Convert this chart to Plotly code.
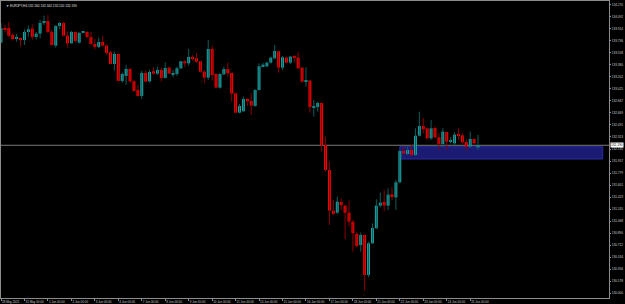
import plotly.graph_objects as go

symbol_title = "EURJPY,H4"

opens = [133.709,133.926,133.926,133.822,133.763,133.778,133.748,133.867,133.916,133.793,
         133.842,134.000,134.029,133.867,133.665,133.955,134.000,133.812,133.699,133.867,
         133.709,133.857,133.867,133.793,133.689,133.645,133.719,133.665,133.566,133.393,
         133.541,133.142,133.216,133.319,133.137,133.009,132.920,133.260,133.137,133.285,
         133.250,133.305,133.186,133.339,133.236,133.246,133.329,133.433,133.403,133.497,
         133.477,133.433,133.280,133.191,133.615,133.245,133.043,133.240,133.319,133.260,
         132.959,132.673,132.693,132.875,132.846,132.772,133.009,133.359,133.359,133.413,
         133.477,133.580,133.339,133.487,133.413,133.507,133.487,133.339,133.132,133.147,
         132.747,132.757,132.816,132.194,131.824,131.223,131.193,131.351,131.297,131.193,
         131.060,130.878,130.715,130.863,130.271,130.740,130.962,131.297,131.351,131.297,
         131.465,131.420,131.642,132.106,132.061,132.120,132.047,132.332,132.475,132.441,
         132.293,132.446,132.308,132.209,132.387,132.244,132.219,132.347,132.337,132.239,
         132.170,132.283,132.160]
highs = [133.995,133.970,134.015,133.847,133.837,133.783,133.906,133.960,133.975,133.867,
         134.044,134.108,134.118,133.896,133.970,134.015,134.015,133.872,133.882,133.872,
         133.867,133.877,133.877,133.867,133.763,133.783,133.808,133.684,133.591,133.576,
         133.551,133.265,133.379,133.329,133.157,133.083,133.295,133.295,133.305,133.344,
         133.354,133.339,133.418,133.354,133.305,133.354,133.438,133.453,133.615,133.522,
         133.551,133.438,133.305,133.748,133.664,133.255,133.255,133.354,133.413,133.265,
         132.969,132.802,132.910,132.885,132.959,133.018,133.403,133.413,133.428,133.502,
         133.674,133.590,133.511,133.502,133.511,133.526,133.576,133.344,133.344,133.156,
         132.861,132.836,132.821,132.317,131.948,131.381,131.430,131.405,131.307,131.371,
         131.085,130.912,130.898,130.873,130.764,131.036,131.391,131.489,131.529,131.553,
         131.568,131.676,132.120,132.170,132.170,132.194,132.441,132.687,132.589,132.451,
         132.564,132.466,132.367,132.441,132.392,132.308,132.382,132.441,132.367,132.283,
         132.392,132.293,132.342]
lows = [133.699,133.862,133.788,133.739,133.724,133.650,133.674,133.798,133.748,133.758,
        133.773,133.970,133.847,133.665,133.635,133.906,133.798,133.635,133.694,133.709,
        133.694,133.847,133.778,133.679,133.610,133.625,133.650,133.536,133.389,133.295,
        133.137,133.117,133.083,133.107,132.984,132.910,132.876,133.122,133.117,133.231,
        133.231,133.132,133.177,133.246,133.196,133.216,133.319,133.344,133.369,133.443,
        133.413,133.265,133.107,133.157,133.147,133.033,133.028,133.226,133.206,132.836,
        132.663,132.663,132.688,132.772,132.639,132.762,132.999,133.344,133.344,133.398,
        133.462,133.265,133.304,133.403,133.393,133.418,133.314,133.117,133.058,132.673,
        132.614,132.688,132.096,131.800,131.011,131.159,131.174,131.233,130.799,130.986,
        130.616,130.681,130.616,130.040,130.237,130.730,130.952,131.272,131.213,131.233,
        131.381,131.233,131.627,132.047,132.047,132.032,132.032,132.318,132.367,132.278,
        132.268,132.293,132.120,132.170,132.120,132.219,132.194,132.268,132.209,132.111,
        132.155,132.209,132.120]
closes = [133.921,133.901,133.812,133.763,133.778,133.748,133.867,133.906,133.793,133.842,
          134.000,134.029,133.867,133.674,133.955,134.000,133.812,133.699,133.867,133.734,
          133.852,133.867,133.793,133.689,133.645,133.719,133.665,133.556,133.393,133.541,
          133.142,133.246,133.319,133.137,132.994,132.920,133.260,133.132,133.275,133.250,
          133.305,133.186,133.334,133.250,133.250,133.329,133.433,133.403,133.497,133.472,
          133.428,133.280,133.191,133.615,133.230,133.043,133.245,133.319,133.255,132.954,
          132.673,132.772,132.875,132.841,132.777,133.009,133.359,133.383,133.413,133.487,
          133.585,133.339,133.492,133.413,133.502,133.482,133.329,133.132,133.152,132.757,
          132.757,132.816,132.190,131.824,131.223,131.174,131.356,131.302,131.193,131.060,
          130.888,130.700,130.863,130.271,130.740,130.967,131.297,131.341,131.297,131.460,
          131.425,131.642,132.105,132.071,132.120,132.047,132.332,132.475,132.426,132.293,
          132.441,132.308,132.209,132.392,132.244,132.259,132.347,132.337,132.234,132.170,
          132.283,132.219,132.190]

x_labels = ["28 May 2021", "31 May 00:00", "1 Jun 00:00", "2 Jun 00:00", "3 Jun 00:00",
            "4 Jun 00:00", "7 Jun 00:00", "8 Jun 00:00", "9 Jun 00:00", "10 Jun 00:00",
            "11 Jun 00:00", "14 Jun 00:00", "15 Jun 00:00", "16 Jun 00:00", "17 Jun 00:00",
            "18 Jun 00:00", "21 Jun 00:00", "22 Jun 00:00", "23 Jun 00:00", "24 Jun 00:00",
            "25 Jun 00:00"]
bars_per_label = 6

y_tick_values = [134.270, 134.092, 133.914, 133.736, 133.558, 133.380, 133.202, 133.025,
                 132.847, 132.669, 132.491, 132.313, 132.135, 131.957, 131.779, 131.601,
                 131.423, 131.245, 131.068, 130.890, 130.712, 130.534, 130.356, 130.178,
                 130.000]

zone_start = 102
zone_end = 153.9
zone_low = 131.987
zone_high = 132.169

# ---------------------------------------------------------------
BULL = "#1ca5a5"
BEAR = "#ff0000"
BULL_WICK = "#0e5c5c"
BEAR_WICK = "#8a0000"
AXIS = "#8c8c8c"
TXT = "#c8c8c8"
FONT = "Liberation Sans"

n = len(opens)
idx = list(range(n))
up = [c >= o for o, c in zip(opens, closes)]

fig = go.Figure()

for is_up, col in [(True, BULL_WICK), (False, BEAR_WICK)]:
    wx, wy = [], []
    for i in idx:
        if up[i] == is_up:
            wx += [i, i, None]
            wy += [lows[i], highs[i], None]
    fig.add_trace(go.Scatter(x=wx, y=wy, mode="lines",
                             line=dict(color=col, width=1), hoverinfo="skip"))

bases = [min(o, c) for o, c in zip(opens, closes)]
heights = [max(abs(c - o), 0.012) for o, c in zip(opens, closes)]
fig.add_trace(go.Bar(x=idx, y=heights, base=bases, width=0.75,
                     marker=dict(color=[BULL if u else BEAR for u in up], line=dict(width=0))))

fig.add_shape(type="rect", xref="x", yref="y", x0=zone_start, x1=zone_end,
              y0=zone_low, y1=zone_high, fillcolor="#1b1b74",
              line=dict(color="#2b2ba0", width=1), layer="below")
fig.add_shape(type="line", xref="paper", yref="y", x0=0, x1=1,
              y0=closes[-1], y1=closes[-1], line=dict(color="#7a7a7a", width=1), layer="below")

title_txt = "\u25bc " + symbol_title + " " + " ".join(
    f"{v:.3f}" for v in (opens[-1], highs[-1], lows[-1], closes[-1]))
fig.add_annotation(xref="paper", yref="paper", x=0, y=1, xanchor="left", yanchor="top",
                   text=title_txt, showarrow=False, xshift=3, yshift=-1,
                   font=dict(size=3.2, color="#e0e0e0", family=FONT))
fig.add_annotation(xref="paper", yref="y", x=1, y=closes[-1], xanchor="left", yanchor="middle",
                   text=f"{closes[-1]:.3f}", showarrow=False, xshift=1,
                   bgcolor="#ffffff", borderpad=0,
                   font=dict(size=3.2, color="#000000", family=FONT))

fig.update_layout(
    width=625, height=304,
    margin=dict(l=1, r=16, t=1, b=6, pad=0, autoexpand=False),
    paper_bgcolor="#000000", plot_bgcolor="#000000",
    showlegend=False, barmode="overlay",
    xaxis=dict(range=[0, 155.5], showgrid=False, zeroline=False, automargin=False,
               showline=True, mirror=True, linecolor=AXIS, linewidth=1,
               tickmode="array", tickangle=0,
               tickvals=[k * bars_per_label for k in range(len(x_labels))],
               ticktext=x_labels, ticks="outside", ticklen=2, tickcolor=AXIS,
               ticklabelposition="outside right",
               tickfont=dict(size=3, color=TXT, family=FONT)),
    yaxis=dict(range=[129.9305, 134.3247], side="right", showgrid=False, zeroline=False,
               automargin=False,
               showline=True, mirror=True, linecolor=AXIS, linewidth=1,
               tickmode="array", tickvals=y_tick_values,
               ticktext=[f"{v:.3f}" for v in y_tick_values],
               ticks="outside", ticklen=1, tickcolor=AXIS,
               tickfont=dict(size=3.2, color=TXT, family=FONT)),
)

fig.write_html("out.html")
